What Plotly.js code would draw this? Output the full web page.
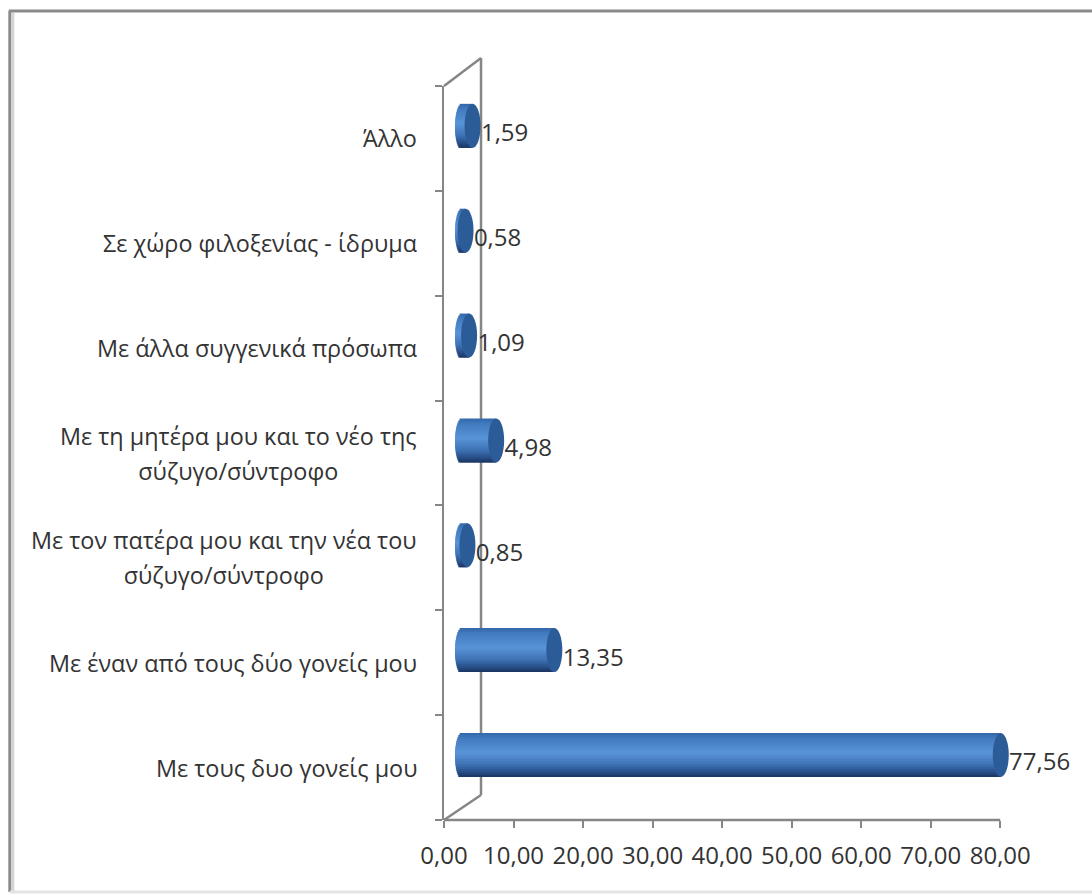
<!DOCTYPE html>
<html><head><meta charset="utf-8">
<script src="https://cdn.plot.ly/plotly-3.0.1.min.js"></script>
<style>html,body{margin:0;padding:0;background:#fff}#c{width:1092px;height:895px}</style>
</head><body><div id="c"></div>
<script>
// Data (bottom to top)
const categories = ["Με τους δυο γονείς μου","Με έναν από τους δύο γονείς μου","Με τον πατέρα μου και την νέα του<br>σύζυγο/σύντροφο","Με τη μητέρα μου και το νέο της<br>σύζυγο/σύντροφο","Με άλλα συγγενικά πρόσωπα","Σε χώρο φιλοξενίας - ίδρυμα","Άλλο"];
const values = [77.56,13.35,0.85,4.98,1.09,0.58,1.59];
const valueLabels = ["77,56","13,35","0,85","4,98","1,09","0,58","1,59"];
const xTicks = [0,10,20,30,40,50,60,70,80];
const xTickLabels = ["0,00","10,00","20,00","30,00","40,00","50,00","60,00","70,00","80,00"];

// Geometry (plot area: x 444..1035 px, y 86..820 px)
const W=1092,H=895,L=444,T=86,B=820;
const pxPerX=6.95, xMax=85, plotW=xMax*pxPerX, plotH=B-T, pxPerY=plotH/7;
const R=W-L-plotW;
const depthX=17.5/pxPerX, liftY=12.6/pxPerY, barH=44/pxPerY, capA=6.5/pxPerX, capR=8/pxPerX;
const font="'Open Sans','Noto Sans',sans-serif", textCol="#333";
const stops=[[0,[50,104,168]],[0.12,[66,122,190]],[0.45,[88,148,216]],[0.72,[62,114,180]],[0.9,[38,76,132]],[1,[28,52,96]]];
function grad(t){for(let i=1;i<stops.length;i++){if(t<=stops[i][0]){const a=stops[i-1],b=stops[i],f=(t-a[0])/(b[0]-a[0]);
  return 'rgb('+a[1].map((c,j)=>Math.round(c+(b[1][j]-c)*f)).join(',')+')';}}return 'rgb(28,52,96)';}

const yPos=categories.map((_,i)=>i);
const traces=[];
const N=22;
for(let k=0;k<N;k++){
  const t=(k+0.5)/N, u=2*t-1, ext=capA*Math.sqrt(Math.max(0,1-u*u));
  const stripTop=barH/2-barH*k/N;
  traces.push({type:'bar',orientation:'h',y:yPos.map(i=>i+liftY),
    x:values.map(v=>v+ext),base:values.map(()=>depthX-ext),
    width:values.map(()=>Math.min(2*barH/N,stripTop+barH/2)),
    offset:values.map(()=>stripTop-Math.min(2*barH/N,stripTop+barH/2)),
    marker:{color:grad(t),line:{width:0}},hoverinfo:'skip',showlegend:false});
}
traces.push({type:'scatter',mode:'text',x:values.map(v=>v+depthX+1.2),y:yPos.map(i=>i+0.03),
  text:valueLabels,textposition:'middle right',textfont:{family:font,size:24,color:textCol},
  cliponaxis:false,hoverinfo:'skip',showlegend:false});

const line={color:'#868686',width:2.5};
const px=x=>(x-L)/plotW, py=y=>(B-y)/plotH;
const seg=(x0,y0,x1,y1,l)=>({type:'line',xref:'paper',yref:'paper',x0:px(x0),y0:py(y0),x1:px(x1),y1:py(y1),line:l||line,layer:'below'});
const shapes=[
  seg(444,86,481,58),seg(481,58,481,795),seg(481,795,444,820),
  {type:'line',xref:'x',yref:'paper',x0:0,x1:80,y0:0,y1:0,line:line,layer:'below'},
  // picture frame
  seg(9,11,1092,11,{color:'#8a8a8a',width:3}),seg(10,11,10,892,{color:'#8a8a8a',width:3}),
  seg(13,13,13,892,{color:'#d4d4d4',width:3}),
  seg(10,892,1092,892,{color:'#e4e4e4',width:3})
];
values.forEach((v,i)=>{
  shapes.push({type:'circle',xref:'x',yref:'y',x0:depthX+v-capR,x1:depthX+v+capR,
    y0:i+liftY-barH/2,y1:i+liftY+barH/2,fillcolor:'#2c5c98',line:{width:0},layer:'above'});
});

const labelHtml=c=>c.split('<br>').map(s=>'<span style="font-size:23.4px">'+s+'</span>').join('<br>');
const annotations=categories.map((c,i)=>({text:labelHtml(c),xref:'paper',yref:'y',x:px(419),y:i,xanchor:'right',yanchor:'middle',
  align:'center',showarrow:false,font:{family:font,size:27,color:textCol}}));

Plotly.newPlot('c',traces,{
  width:W,height:H,margin:{l:L,r:R,t:T,b:H-B,pad:0},
  paper_bgcolor:'#fff',plot_bgcolor:'rgba(0,0,0,0)',barmode:'overlay',showlegend:false,
  xaxis:{range:[0,xMax],tickmode:'array',tickvals:xTicks,ticktext:xTickLabels,ticks:'outside',ticklen:7,tickwidth:2,tickcolor:'#868686',
    ticklabelstandoff:7,showgrid:false,zeroline:false,showline:false,tickfont:{family:font,size:24,color:textCol}},
  yaxis:{range:[-0.5,6.5],tickmode:'array',tickvals:[-0.5,0.5,1.5,2.5,3.5,4.5,5.5,6.5],ticks:'outside',ticklen:7,tickwidth:2,tickcolor:'#868686',
    showticklabels:false,showgrid:false,zeroline:false,showline:true,linecolor:'#868686',linewidth:2},
  shapes:shapes,annotations:annotations
},{displayModeBar:false,staticPlot:true});
</script></body></html>
